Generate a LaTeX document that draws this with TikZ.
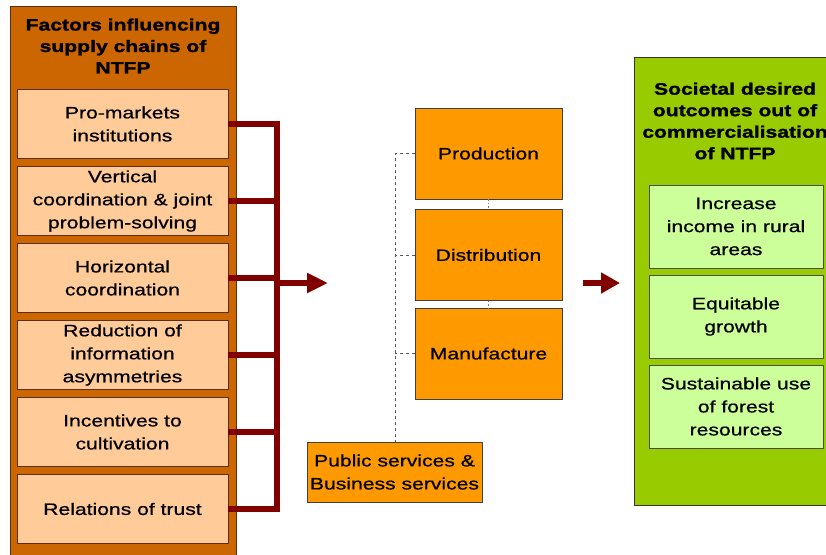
\documentclass[tikz,border=0pt]{standalone}
\usepackage{fontspec}
\setmainfont[FakeStretch=1.28, UprightFeatures={FakeBold=0.7}, BoldFeatures={FakeBold=1.4}]{Liberation Sans}
\usetikzlibrary{arrows.meta}
\definecolor{louter}{RGB}{204,102,0}
\definecolor{linner}{RGB}{255,204,153}
\definecolor{bracketc}{RGB}{128,0,0}
\definecolor{midc}{RGB}{255,153,0}
\definecolor{gouter}{RGB}{153,204,0}
\definecolor{ginner}{RGB}{204,255,153}
\definecolor{edgec}{RGB}{90,45,20}
\begin{document}
\begin{tikzpicture}[x=1pt,y=-1pt,
  txt/.style={font=\fontsize{16.5}{23}\selectfont, align=center, text=black},
  ttl/.style={font=\fontsize{16.5}{21.5}\selectfont\bfseries, align=center, text=black},
  outerbox/.style={draw=edgec, line width=1pt, inner sep=0pt, outer sep=0pt, anchor=north west},
  linbox/.style={txt, fill=linner, draw=edgec, line width=0.9pt, inner sep=0pt, outer sep=0pt, minimum width=211pt, minimum height=69pt},
  midbox/.style={txt, fill=midc, draw=black!75, line width=1pt, inner sep=0pt, outer sep=0pt, minimum width=147pt, minimum height=91pt},
  ginbox/.style={txt, fill=ginner, draw=black!70, line width=0.9pt, inner sep=0pt, outer sep=0pt, minimum width=174pt, minimum height=83pt},
  bracket/.style={draw=bracketc, line width=6pt, line join=miter},
  dashline/.style={draw=black!65, line width=0.9pt, dash pattern=on 3pt off 3pt},
  dotline/.style={draw=black!50, line width=0.8pt, dash pattern=on 1.5pt off 2pt}
]
\useasboundingbox (0,0) rectangle (826,554);
\clip (0,0) rectangle (826,554);
\fill[white] (0,0) rectangle (826,554);

% left group
\node[outerbox, fill=louter, minimum width=226pt, minimum height=560pt] (L) at (10,6) {};
\node[ttl] (Ltitle) at (123,46) {Factors influencing\\supply chains of\\NTFP};
\node[linbox] (b1) at (122.5,124) {Pro-markets\\institutions};
\node[linbox] (b2) at (122.5,201) {Vertical\\coordination \& joint\\problem-solving};
\node[linbox] (b3) at (122.5,278) {Horizontal\\coordination};
\node[linbox] (b4) at (122.5,355) {Reduction of\\information\\asymmetries};
\node[linbox] (b5) at (122.5,432) {Incentives to\\cultivation};
\node[linbox] (b6) at (122.5,509) {Relations of trust};

% bracket
\coordinate (bar) at (277,0);
\draw[bracket] (b1.east) -| (bar |- b6.east) -- (b6.east);
\foreach \b in {b2,b3,b4,b5} \draw[bracket] (\b.east) -- (bar |- \b.east);
\coordinate (a1start) at (274,283);
\coordinate (a1tip) at (328,283);
\draw[bracket, -{Triangle[length=21pt,width=19pt]}] (a1start) -- (a1tip);

% middle group
\node[midbox] (prod) at (488.5,153.5) {Production};
\node[midbox] (dist) at (488.5,255) {Distribution};
\node[midbox] (manu) at (488.5,353.5) {Manufacture};
\node[txt, fill=midc, draw=black!75, line width=1pt, inner sep=0pt, outer sep=0pt, minimum width=175pt, minimum height=60pt] (pub) at (394.5,472) {Public services \&\\Business services};
\draw[dotline] (prod.south) -- (dist.north);
\draw[dotline] (dist.south) -- (manu.north);
\coordinate (dv) at (395,0);
\draw[dashline] (prod.west) -- (prod.west -| dv) -- (pub.north -| dv);
\draw[dashline] (dist.west) -- (dist.west -| dv);
\draw[dashline] (manu.west) -- (manu.west -| dv);

% right arrow
\coordinate (a2start) at (583,283);
\coordinate (a2tip) at (620,283);
\draw[bracket, -{Triangle[length=19pt,width=20pt]}] (a2start) -- (a2tip);

% right group
\node[outerbox, fill=gouter, draw=black!80, minimum width=210pt, minimum height=448pt] (G) at (634,57) {};
\node[ttl] (Gtitle) at (735,121) {Societal desired\\outcomes out of\\commercialisation\\of NTFP};
\node[ginbox] (g1) at (736,226.5) {Increase\\income in rural\\areas};
\node[ginbox] (g2) at (736,316.5) {Equitable\\growth};
\node[ginbox] (g3) at (736,406.5) {Sustainable use\\of forest\\resources};
\end{tikzpicture}
\end{document}
